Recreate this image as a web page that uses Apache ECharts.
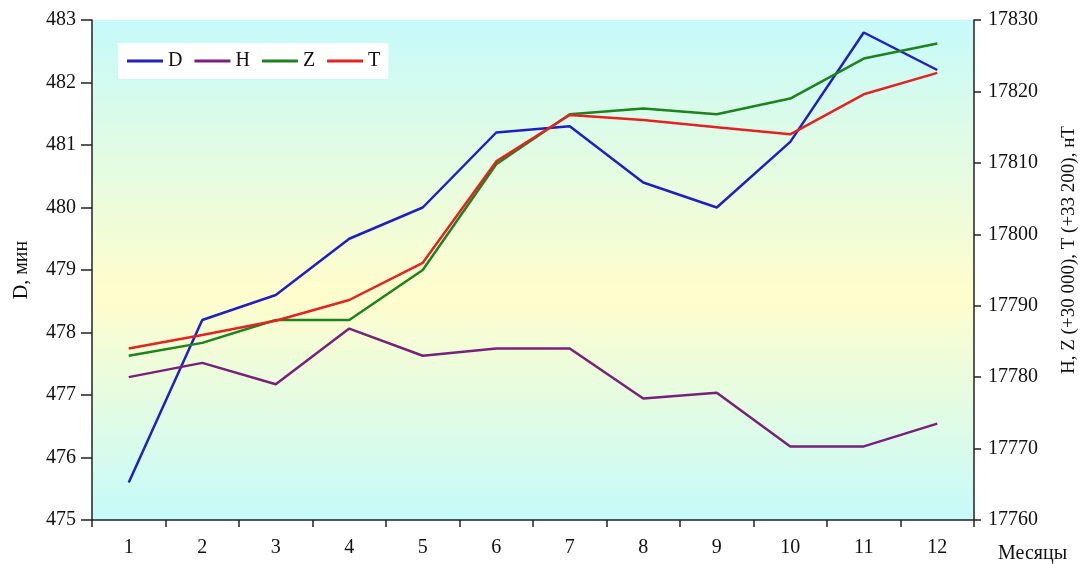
<!DOCTYPE html>
<html>
<head>
<meta charset="utf-8">
<script src="https://cdn.jsdelivr.net/npm/echarts@6/dist/echarts.min.js"></script>
<style>
  html, body { margin: 0; padding: 0; background: #ffffff; }
  #chart { width: 1082px; height: 564px; }
</style>
</head>
<body>
<div id="chart"></div>
<script>
// Monthly means of geomagnetic field components
const months = ['1', '2', '3', '4', '5', '6', '7', '8', '9', '10', '11', '12'];
// D, declination (minutes) — left axis
const seriesD = [475.6, 478.2, 478.6, 479.5, 480.0, 481.2, 481.3, 480.4, 480.0, 481.05, 482.8, 482.2];
// H, Z (+30 000) and T (+33 200), nT — right axis
const seriesH = [17780, 17782, 17779, 17786.8, 17783, 17784, 17784, 17777, 17777.8, 17770.3, 17770.3, 17773.5];
const seriesZ = [17783, 17784.8, 17788, 17788, 17795, 17809.8, 17816.8, 17817.6, 17816.8, 17819, 17824.6, 17826.7];
const seriesT = [17784, 17785.9, 17787.9, 17790.8, 17796, 17810.2, 17816.7, 17816, 17815, 17814, 17819.6, 17822.6];

const leftAxisName = 'D, мин';
const rightAxisName = 'H, Z (+30 000), T (+33 200), нТ';
const xAxisName = 'Месяцы';

const FONT = "'Liberation Serif', 'Times New Roman', serif";
const axisColor = '#222';
const textColor = '#111';

const chart = echarts.init(document.getElementById('chart'), null, { renderer: 'canvas' });

const lineSeries = (name, data, color, yIdx) => ({
  name, type: 'line', data, yAxisIndex: yIdx,
  symbol: 'none', smooth: false,
  lineStyle: { color, width: 2.5 },
  itemStyle: { color }
});

chart.setOption({
  animation: false,
  textStyle: { fontFamily: FONT },
  grid: {
    left: 92, right: 108, top: 20, bottom: 44,
    containLabel: false,
    outerBoundsMode: 'none',
    show: true, borderWidth: 0,
    backgroundColor: new echarts.graphic.LinearGradient(0, 0, 0, 1, [
      { offset: 0, color: '#c6fafa' },
      { offset: 0.55, color: '#fffdcc' },
      { offset: 1, color: '#c6fafa' }
    ])
  },
  legend: {
    left: 118, top: 43,
    backgroundColor: '#ffffff',
    padding: [8, 8, 8, 9],
    itemWidth: 36, itemHeight: 3, itemGap: 12,
    icon: 'rect',
    textStyle: { fontFamily: FONT, fontSize: 20, color: textColor },
    data: ['D', 'H', 'Z', 'T']
  },
  xAxis: {
    type: 'category', data: months, boundaryGap: true,
    name: xAxisName, nameLocation: 'end', nameGap: 24,
    nameTextStyle: { fontFamily: FONT, fontSize: 20, color: textColor, verticalAlign: 'top', padding: [24, 0, 0, 0] },
    axisLine: { lineStyle: { color: axisColor, width: 1.5 } },
    axisTick: { show: true, interval: 0, length: 7, lineStyle: { color: axisColor, width: 1.5 } },
    axisLabel: { fontFamily: FONT, fontSize: 20, color: textColor, margin: 18, interval: 0 },
    splitLine: { show: false }
  },
  yAxis: [
    {
      type: 'value', position: 'left', min: 475, max: 483, interval: 1,
      name: leftAxisName, nameLocation: 'middle', nameRotate: 90, nameGap: 60,
      nameTextStyle: { fontFamily: FONT, fontSize: 20, color: textColor },
      axisLine: { show: true, lineStyle: { color: axisColor, width: 1.5 } },
      axisTick: { show: true, length: 11, lineStyle: { color: axisColor, width: 1.5 } },
      axisLabel: { fontFamily: FONT, fontSize: 20, color: textColor, margin: 16 },
      splitLine: { show: false }
    },
    {
      type: 'value', position: 'right', min: 17760, max: 17830, interval: 10,
      name: rightAxisName, nameLocation: 'middle', nameRotate: 90, nameGap: 86,
      nameTextStyle: { fontFamily: FONT, fontSize: 19, color: textColor, padding: [0, 0, 0, 40] },
      axisLine: { show: true, lineStyle: { color: axisColor, width: 1.5 } },
      axisTick: { show: true, length: 7, lineStyle: { color: axisColor, width: 1.5 } },
      axisLabel: { fontFamily: FONT, fontSize: 20, color: textColor, margin: 14, formatter: (v) => String(v) },
      splitLine: { show: false }
    }
  ],
  series: [
    lineSeries('D', seriesD, '#1f1fc4', 0),
    lineSeries('H', seriesH, '#78207a', 1),
    lineSeries('Z', seriesZ, '#1e821e', 1),
    lineSeries('T', seriesT, '#e42222', 1)
  ]
});
</script>
</body>
</html>
